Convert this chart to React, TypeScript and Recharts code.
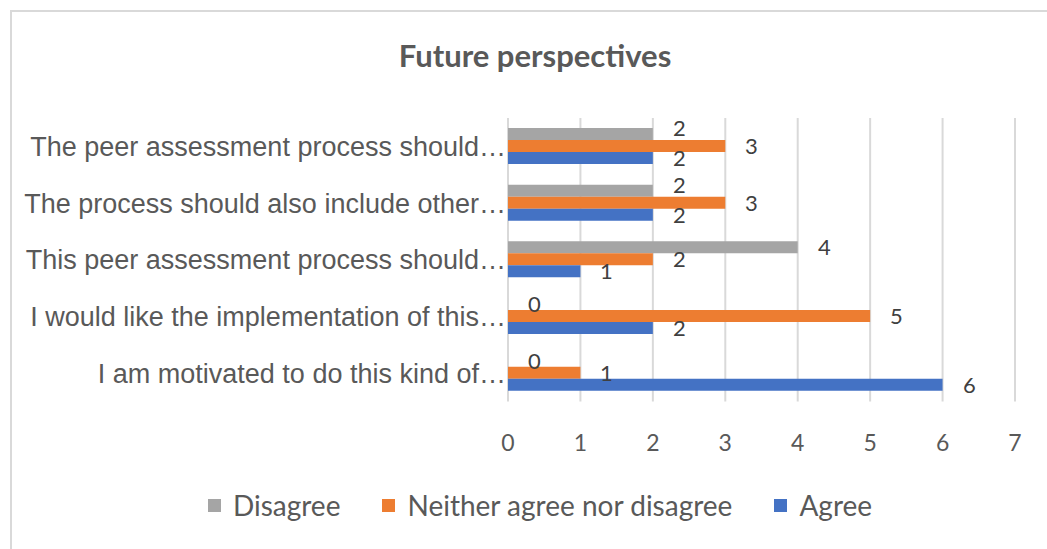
import React from 'react';
import { BarChart, Bar, XAxis, YAxis, CartesianGrid, LabelList } from 'recharts';

const categories = [
  'The peer assessment process should…',
  'The process should also include other…',
  'This peer assessment process should…',
  'I would like the implementation of this…',
  'I am motivated to do this kind of…',
];
const disagree = [2, 2, 4, 0, 0];
const neither = [3, 3, 2, 5, 1];
const agree = [2, 2, 1, 2, 6];
const xTicks = [0, 1, 2, 3, 4, 5, 6, 7];

const series = [
  { key: 'disagree', name: 'Disagree', color: '#a5a5a5' },
  { key: 'neither', name: 'Neither agree nor disagree', color: '#ed7d31' },
  { key: 'agree', name: 'Agree', color: '#4472c4' },
];

const data = categories.map((name, i) => ({
  name,
  disagree: disagree[i],
  neither: neither[i],
  agree: agree[i],
}));

const LABEL_FONT = 'Lato, "Open Sans", sans-serif';

const makeLabel = (key: string) => (props: any) => {
  const vb = props.viewBox || {};
  const x = Number(props.x ?? vb.x);
  const y = Number(props.y ?? vb.y);
  const width = Number(props.width ?? vb.width ?? 0);
  const height = Number(props.height ?? vb.height ?? 0);
  const index = props.index;
  const value = props.value;
  let shift = 0;
  if (key === 'disagree' && disagree[index] > 0 && Math.abs(disagree[index] - neither[index]) <= 1) shift = -6;
  return (
    <text
      x={x + Math.round(width) + 20}
      y={y + height / 2 + shift}
      dy="0.36em"
      textAnchor="start"
      fontFamily={LABEL_FONT}
      fontSize={22}
      fill="#404040"
    >
      {String(value)}
    </text>
  );
};

const CategoryTick = (props: any) => {
  const { x, y, payload } = props;
  return (
    <text
      x={Number(x) + 5}
      y={Number(y)}
      dy="0.355em"
      textAnchor="end"
      fontFamily='"Liberation Sans", Arial, sans-serif'
      fontSize={27}
      fill="#595959"
    >
      {payload?.value}
    </text>
  );
};

export default function App() {
  return (
    <div
      style={{
        position: 'absolute',
        left: 0,
        top: 0,
        width: 1047,
        height: 549,
        overflow: 'hidden',
        background: '#ffffff',
      }}
    >
      <div
        style={{
          position: 'absolute',
          left: 10,
          top: 10,
          width: 1100,
          height: 600,
          border: '2px solid #d9d9d9',
          boxSizing: 'border-box',
        }}
      />
      <div
        style={{
          position: 'absolute',
          left: 0,
          width: 1070,
          top: 36,
          textAlign: 'center',
          fontFamily: LABEL_FONT,
          fontWeight: 700,
          fontSize: 31,
          color: '#595959',
          lineHeight: 'normal',
        }}
      >
        Future perspectives
      </div>
      <div style={{ position: 'absolute', left: 0, top: 0 }}>
        <BarChart
          width={1047}
          height={549}
          data={data}
          layout="vertical"
          margin={{ top: 118, right: 32, bottom: 0, left: 0 }}
          barSize={12}
          barGap={0}
        >
          <CartesianGrid horizontal={false} stroke="#d9d9d9" strokeWidth={2} />
          <XAxis
            type="number"
            domain={[0, 7]}
            ticks={xTicks}
            height={147.6}
            axisLine={false}
            tickLine={false}
            tickMargin={27}
            tick={{ fontFamily: LABEL_FONT, fontSize: 23, fill: '#595959' }}
            interval={0}
          />
          <YAxis
            type="category"
            dataKey="name"
            width={508}
            axisLine={false}
            tickLine={false}
            tickMargin={1}
            interval={0}
            tick={<CategoryTick />}
          />
          {series.map((s) => (
            <Bar
              key={s.key}
              dataKey={s.key}
              name={s.name}
              fill={s.color}
              minPointSize={0.01}
              isAnimationActive={false}
            >
              <LabelList dataKey={(d: any) => String(d[s.key])} content={makeLabel(s.key)} />
            </Bar>
          ))}
        </BarChart>
      </div>
      <div
        style={{
          position: 'absolute',
          left: 0,
          width: 1080,
          top: 488,
          display: 'flex',
          justifyContent: 'center',
          fontFamily: LABEL_FONT,
          fontSize: 28,
          color: '#595959',
        }}
      >
        {series.map((s) => (
          <div key={s.key} style={{ display: 'flex', alignItems: 'center', margin: '0 21px' }}>
            <span style={{ display: 'inline-block', width: 13, height: 13, background: s.color, marginRight: 12 }} />
            <span>{s.name}</span>
          </div>
        ))}
      </div>
    </div>
  );
}
